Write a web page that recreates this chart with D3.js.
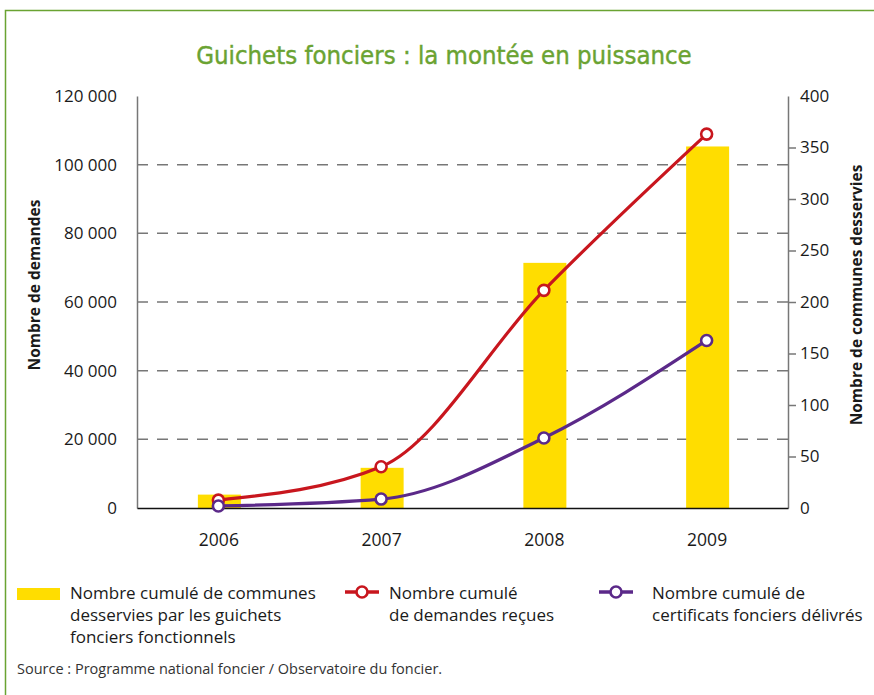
<!DOCTYPE html>
<html>
<head>
<meta charset="utf-8">
<script src="https://cdn.jsdelivr.net/npm/d3@7"></script>
<style>
  body { margin: 0; background: #fff; }
  svg text { font-family: "Open Sans", "Noto Sans", sans-serif; fill: #1a1a1a; }
</style>
</head>
<body>
<div id="chart"></div>
<script>
// data
var years = ["2006", "2007", "2008", "2009"];
var communes = [13, 39, 238, 351];            // bars, right axis
var demandes = [2300, 12000, 63400, 108900];   // red line, left axis
var certificats = [600, 2600, 20400, 48800];   // purple line, left axis
var leftTicks = [0, 20000, 40000, 60000, 80000, 100000, 120000];
var rightTicks = [0, 50, 100, 150, 200, 250, 300, 350, 400];

var W = 874, H = 695;
var margin = { top: 96, right: 86, bottom: 187, left: 137 };
var width = W - margin.left - margin.right,
    height = H - margin.top - margin.bottom;

var yellow = "#FFDD00", red = "#C8161E", purple = "#5B2989", green = "#6AA332";

var svg = d3.select("#chart").append("svg")
    .attr("width", W)
    .attr("height", H);

// green frame
svg.append("path")
    .attr("d", "M874,10.5 H5.5 V695")
    .attr("fill", "none")
    .attr("stroke", green)
    .attr("stroke-width", 1.5);

svg.append("text")
    .attr("x", 444)
    .attr("y", 64)
    .attr("text-anchor", "middle")
    .style("font-family", "'DejaVu Sans Condensed', 'Liberation Sans Narrow', sans-serif")
    .style("font-size", "25.5px")
    .style("font-weight", "normal")
    .style("stroke", green)
    .style("stroke-width", 0.4)
    .style("fill", green)
    .text("Guichets fonciers : la montée en puissance");

var g = svg.append("g")
    .attr("transform", "translate(" + margin.left + "," + margin.top + ")");

var xScale = d3.scalePoint()
    .domain(years)
    .range([0, width])
    .padding(0.5);

var yLeft = d3.scaleLinear().domain([0, 120000]).range([height, 0]);
var yRight = d3.scaleLinear().domain([0, 400]).range([height, 0]);

var fmt = function(d) {
    return d3.format(",")(d).replace(/,/g, " ");
};

// dashed grid
g.append("g").selectAll("line")
    .data(leftTicks.filter(function(d) { return d > 0 && d < 120000; }))
    .enter().append("line")
    .attr("x1", 0)
    .attr("x2", width)
    .attr("y1", function(d) { return yLeft(d); })
    .attr("y2", function(d) { return yLeft(d); })
    .attr("stroke", "#777")
    .attr("stroke-width", 1.5)
    .attr("stroke-dasharray", "11,9");

// bars
var barW = 43;
g.append("g").selectAll("rect")
    .data(communes)
    .enter().append("rect")
    .attr("x", function(d, i) { return xScale(years[i]) - barW / 2 + 1; })
    .attr("y", function(d) { return yRight(d); })
    .attr("width", barW)
    .attr("height", function(d) { return height - yRight(d); })
    .attr("fill", yellow);

// left axis
var leftAxis = g.append("g")
    .call(d3.axisLeft(yLeft).tickValues(leftTicks).tickSize(0).tickPadding(20).tickFormat(fmt));
leftAxis.select(".domain").attr("stroke", "#777").attr("stroke-width", 1.5);
leftAxis.selectAll("text").style("font-size", "17px").attr("fill", "#1a1a1a");

// right axis
var rightAxis = g.append("g")
    .attr("transform", "translate(" + width + ",0)")
    .call(d3.axisRight(yRight).tickValues(rightTicks).tickSizeInner(8).tickSizeOuter(0).tickPadding(4));
rightAxis.select(".domain").attr("stroke", "#777").attr("stroke-width", 1.5);
rightAxis.selectAll(".tick line").attr("stroke", "#777").attr("stroke-width", 1.5);
rightAxis.selectAll(".tick").filter(function(d) { return d === 0 || d === 400; }).select("line").remove();
rightAxis.selectAll("text").style("font-size", "17px").attr("fill", "#1a1a1a");

// x axis
var xAxis = g.append("g")
    .attr("transform", "translate(0," + height + ")")
    .call(d3.axisBottom(xScale).tickSize(0).tickPadding(26));
xAxis.select(".domain").attr("stroke", "#111").attr("stroke-width", 1.5);
xAxis.selectAll("text").style("font-size", "17.5px").attr("fill", "#1a1a1a");

// axis titles
g.append("text")
    .attr("transform", "translate(-97," + (height / 2 - 17) + ") rotate(-90)")
    .attr("text-anchor", "middle")
    .style("font-size", "15.5px")
    .style("font-weight", "bold")
    .text("Nombre de demandes");

g.append("text")
    .attr("transform", "translate(" + (width + 74) + "," + (height / 2 - 7) + ") rotate(-90)")
    .attr("text-anchor", "middle")
    .style("font-size", "15.5px")
    .style("font-weight", "bold")
    .text("Nombre de communes desservies");

// lines
var line = d3.line()
    .x(function(d, i) { return xScale(years[i]); })
    .y(function(d) { return yLeft(d); })
    .curve(d3.curveMonotoneX);

[[demandes, red], [certificats, purple]].forEach(function(s) {
    g.append("path")
        .datum(s[0])
        .attr("d", line)
        .attr("fill", "none")
        .attr("stroke", s[1])
        .attr("stroke-width", 3.2);
    g.append("g").selectAll("circle")
        .data(s[0])
        .enter().append("circle")
        .attr("cx", function(d, i) { return xScale(years[i]); })
        .attr("cy", function(d) { return yLeft(d); })
        .attr("r", 5.5)
        .attr("fill", "#fff")
        .attr("stroke", s[1])
        .attr("stroke-width", 2.6);
});

// legend
var legend = svg.append("g");
legend.append("rect")
    .attr("x", 17).attr("y", 588).attr("width", 43).attr("height", 12)
    .attr("fill", yellow);

function lineSymbol(x, color) {
    legend.append("line")
        .attr("x1", x).attr("x2", x + 34)
        .attr("y1", 592).attr("y2", 592)
        .attr("stroke", color).attr("stroke-width", 3.5);
    legend.append("circle")
        .attr("cx", x + 17).attr("cy", 592).attr("r", 5.5)
        .attr("fill", "#fff").attr("stroke", color).attr("stroke-width", 2.6);
}
lineSymbol(345, red);
lineSymbol(599, purple);

var legendTexts = [
    { x: 70, lines: ["Nombre cumulé de communes", "desservies par les guichets", "fonciers fonctionnels"] },
    { x: 389, lines: ["Nombre cumulé", "de demandes reçues"] },
    { x: 652, lines: ["Nombre cumulé de", "certificats fonciers délivrés"] }
];
legendTexts.forEach(function(t) {
    var txt = legend.append("text")
        .attr("x", t.x).attr("y", 599)
        .style("font-size", "17px");
    t.lines.forEach(function(l, i) {
        txt.append("tspan").attr("x", t.x).attr("dy", i === 0 ? 0 : 22).text(l);
    });
});

svg.append("text")
    .attr("x", 17).attr("y", 674)
    .style("font-size", "14.5px")
    .style("fill", "#333")
    .text("Source : Programme national foncier / Observatoire du foncier.");
</script>
</body>
</html>
